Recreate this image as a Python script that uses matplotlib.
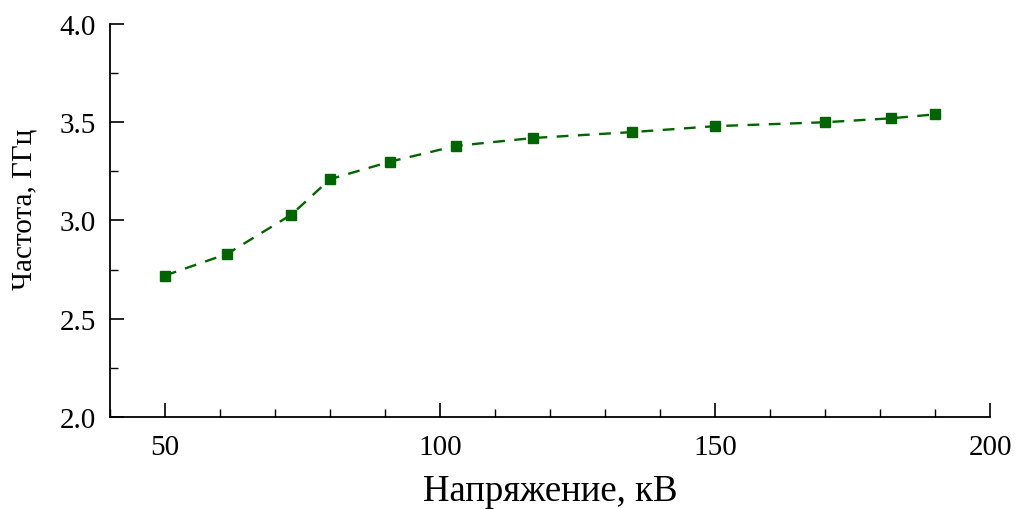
import matplotlib.pyplot as plt
from matplotlib.ticker import MultipleLocator

voltage = [50, 61.3, 73, 80, 91, 103, 117, 135, 150, 170, 182, 190]
frequency = [2.72, 2.83, 3.03, 3.21, 3.30, 3.38, 3.42, 3.45, 3.48, 3.50, 3.52, 3.54]

plt.rcParams['font.family'] = ['Liberation Serif', 'DejaVu Serif']

fig = plt.figure(figsize=(10.2, 5.1), dpi=100)
ax = fig.add_axes([0.1078, 0.1804, 0.8628, 0.7706])

ax.plot(voltage, frequency, color='#006400', linestyle=(0, (5, 4)), linewidth=1.7,
        marker='s', markersize=7.5, markerfacecolor='#006400', markeredgecolor='#006400')

ax.set_xlim(40, 200)
ax.set_ylim(2.0, 4.0)
ax.xaxis.set_major_locator(MultipleLocator(50))
ax.xaxis.set_minor_locator(MultipleLocator(10))
ax.yaxis.set_major_locator(MultipleLocator(0.5))
ax.yaxis.set_minor_locator(MultipleLocator(0.25))
ax.yaxis.set_major_formatter(plt.FormatStrFormatter('%.1f'))

ax.spines['top'].set_visible(False)
ax.spines['right'].set_visible(False)
for s in ('left', 'bottom'):
    ax.spines[s].set_linewidth(1.3)

ax.tick_params(which='major', direction='in', length=10, width=1.2, labelsize=21, pad=10)
ax.tick_params(which='minor', direction='in', length=5.5, width=1.0)
ax.tick_params(axis='x', which='major', pad=12)

ax.set_xlabel('Напряжение, кВ', fontsize=26.5, labelpad=10)
ax.set_ylabel('Частота, ГГц', fontsize=21, labelpad=14)
ax.yaxis.set_label_coords(-0.082, 0.53)

fig.savefig('out.png', dpi=100)
